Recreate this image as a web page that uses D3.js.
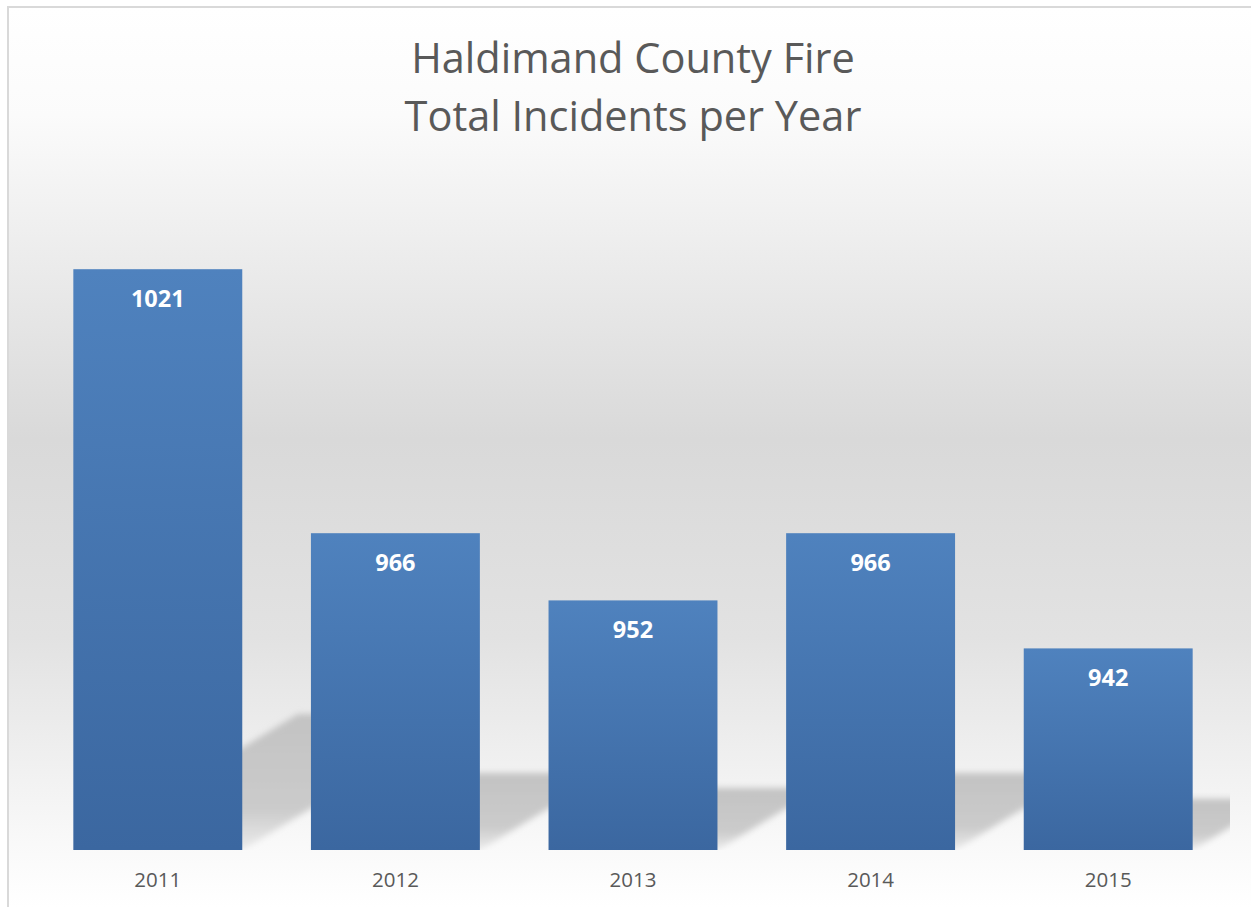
<!DOCTYPE html>
<html>
<head>
<meta charset="utf-8">
<script src="https://cdn.jsdelivr.net/npm/d3@7"></script>
<style>
  html, body { margin: 0; padding: 0; background: #ffffff; }
  svg { display: block; }
</style>
</head>
<body>
<svg id="chart" width="1251" height="907"></svg>
<script>
const years = ["2011", "2012", "2013", "2014", "2015"];
const incidents = [1021, 966, 952, 966, 942];
const yDomain = [900, 1040];
const titleLines = ["Haldimand County Fire", "Total Incidents per Year"];

const svg = d3.select("#chart");
const W = 1251, H = 907;
const base = 850;
const font = "'Open Sans', 'Noto Sans', sans-serif";

const defs = svg.append("defs");
const bg = defs.append("linearGradient").attr("id", "bgGrad")
  .attr("gradientUnits", "userSpaceOnUse").attr("x1", 0).attr("x2", 0).attr("y1", 7).attr("y2", 907);
[[0, "#ffffff"], [0.12, "#fbfbfb"], [0.48, "#d9d9d9"], [0.7, "#e2e2e2"], [0.93, "#f9f9f9"], [1, "#ffffff"]]
  .forEach(([o, c]) => bg.append("stop").attr("offset", o).attr("stop-color", c));

const barGrad = defs.append("linearGradient").attr("id", "barGrad")
  .attr("x1", 0).attr("x2", 0).attr("y1", 0).attr("y2", 1);
barGrad.append("stop").attr("offset", 0).attr("stop-color", "#4f82be");
barGrad.append("stop").attr("offset", 1).attr("stop-color", "#3b67a0");

const shGrad = defs.append("linearGradient").attr("id", "shGrad")
  .attr("x1", 0).attr("x2", 0).attr("y1", 0).attr("y2", 1);
shGrad.append("stop").attr("offset", 0).attr("stop-color", "#c3c3c3");
shGrad.append("stop").attr("offset", 0.7).attr("stop-color", "#cbcbcb");
shGrad.append("stop").attr("offset", 1).attr("stop-color", "#ececec");

defs.append("filter").attr("id", "blur").attr("x", "-20%").attr("y", "-40%").attr("width", "140%").attr("height", "180%")
  .append("feGaussianBlur").attr("stdDeviation", 3.2);

defs.append("clipPath").attr("id", "plotClip")
  .append("rect").attr("x", 39).attr("y", 150).attr("width", 1191).attr("height", base - 150);

// background + border
svg.append("rect").attr("x", 8).attr("y", 7).attr("width", W + 20).attr("height", H + 20)
  .attr("fill", "url(#bgGrad)").attr("stroke", "#d9d9d9").attr("stroke-width", 2);

const x = d3.scaleBand().domain(years).range([39, 1227]).paddingInner(0.289).paddingOuter(0.1445);
const y = d3.scaleLinear().domain(yDomain).range([base, 178]);

const data = years.map((yr, i) => ({ yr, v: incidents[i] }));

// perspective shadows
svg.append("g").attr("clip-path", "url(#plotClip)")
  .append("g").attr("filter", "url(#blur)")
  .selectAll("polygon").data(data).join("polygon")
  .attr("fill", "url(#shGrad)")
  .attr("points", d => {
    const x0 = x(d.yr), x1 = x0 + x.bandwidth();
    const h = base - y(d.v);
    const sh = 0.224 * h + 6;
    const s = 1.65 * sh;
    return [[x0, base], [x1, base], [x1 + s, base - sh], [x0 + s, base - sh]].map(p => p.join(",")).join(" ");
  });

// bars
svg.append("g").selectAll("rect").data(data).join("rect")
  .attr("x", d => x(d.yr)).attr("width", x.bandwidth())
  .attr("y", d => y(d.v)).attr("height", d => base - y(d.v))
  .attr("fill", "url(#barGrad)");

// data labels
svg.append("g").selectAll("text").data(data).join("text")
  .attr("x", d => x(d.yr) + x.bandwidth() / 2)
  .attr("y", d => y(d.v) + 38)
  .attr("text-anchor", "middle")
  .attr("font-family", font).attr("font-weight", 700).attr("font-size", 23.5)
  .attr("fill", "#ffffff")
  .text(d => d.v);

// category axis labels
const xAxis = d3.axisBottom(x).tickSize(0).tickPadding(0);
const ax = svg.append("g").attr("transform", `translate(0,${base})`).call(xAxis);
ax.select(".domain").remove();
ax.selectAll("text")
  .attr("y", 37).attr("dy", null)
  .attr("font-family", font).attr("font-size", 20.5).attr("fill", "#595959");

// title
const title = svg.append("text").attr("text-anchor", "middle")
  .attr("font-family", font).attr("font-size", 41.5).attr("fill", "#595959");
titleLines.forEach((t, i) => {
  title.append("tspan").attr("x", 633).attr("y", 73 + i * 58).text(t);
});
</script>
</body>
</html>
